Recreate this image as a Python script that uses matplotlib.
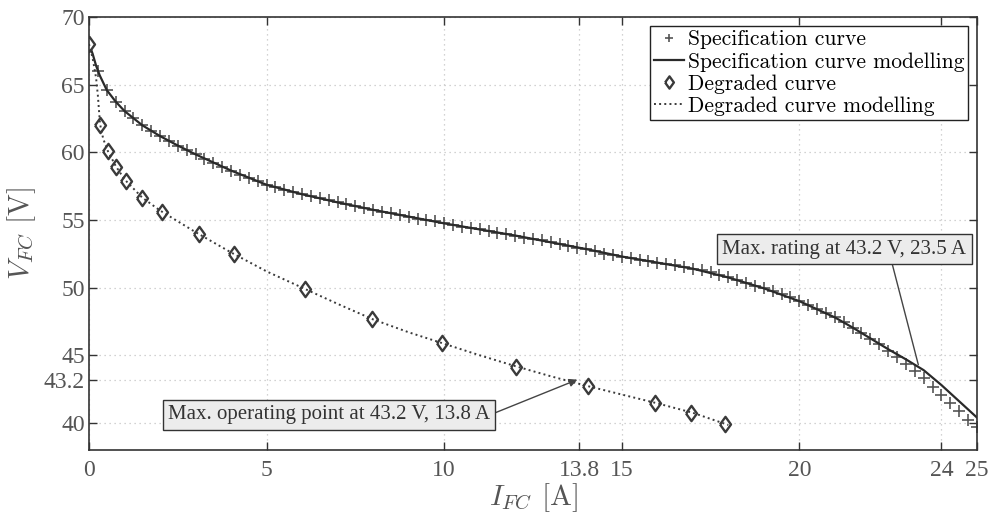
import matplotlib
matplotlib.use("Agg")
import matplotlib.pyplot as plt

plt.rcParams["mathtext.fontset"] = "cm"

# specification curve (data points, + markers)
spec_i = [0.00, 0.25, 0.50, 0.75, 1.00, 1.25, 1.50, 1.75, 2.00, 2.25,
          2.50, 2.75, 3.00, 3.25, 3.50, 3.75, 4.00, 4.25, 4.50, 4.75,
          5.00, 5.25, 5.50, 5.75, 6.00, 6.25, 6.50, 6.75, 7.00, 7.25,
          7.50, 7.75, 8.00, 8.25, 8.50, 8.75, 9.00, 9.25, 9.50, 9.75,
          10.00, 10.25, 10.50, 10.75, 11.00, 11.25, 11.50, 11.75, 12.00, 12.25,
          12.50, 12.75, 13.00, 13.25, 13.50, 13.75, 14.00, 14.25, 14.50, 14.75,
          15.00, 15.25, 15.50, 15.75, 16.00, 16.25, 16.50, 16.75, 17.00, 17.25,
          17.50, 17.75, 18.00, 18.25, 18.50, 18.75, 19.00, 19.25, 19.50, 19.75,
          20.00, 20.25, 20.50, 20.75, 21.00, 21.25, 21.50, 21.75, 22.00, 22.25,
          22.50, 22.75, 23.00, 23.25, 23.50, 23.75, 24.00, 24.25, 24.50, 24.75,
          25.00]
spec_v = [68.0, 66.0, 64.6, 63.75, 63.05, 62.5, 62.0, 61.6, 61.2, 60.85,
          60.5, 60.15, 59.85, 59.5, 59.2, 58.9, 58.65, 58.35, 58.1, 57.85,
          57.6, 57.4, 57.2, 57.05, 56.9, 56.75, 56.6, 56.45, 56.3, 56.15,
          56.0, 55.9, 55.75, 55.6, 55.5, 55.35, 55.25, 55.1, 55.0, 54.9,
          54.75, 54.65, 54.5, 54.4, 54.3, 54.2, 54.05, 53.95, 53.85, 53.7,
          53.6, 53.5, 53.35, 53.25, 53.1, 52.95, 52.85, 52.7, 52.5, 52.4,
          52.3, 52.2, 52.05, 51.95, 51.85, 51.75, 51.65, 51.55, 51.4, 51.3,
          51.15, 50.95, 50.75, 50.55, 50.35, 50.15, 49.95, 49.75, 49.55, 49.3,
          49.0, 48.7, 48.4, 48.1, 47.8, 47.45, 47.05, 46.65, 46.2, 45.8,
          45.3, 44.85, 44.35, 43.85, 43.3, 42.65, 42.05, 41.45, 40.85, 40.25,
          39.7]

# specification curve modelling (solid line)
spec_mod_i = [0, 0.1, 0.2, 0.3, 0.5, 0.75, 1.0, 1.5, 2.0, 2.5, 3.0, 4.0, 5.0,
              6.0, 7.0, 8.0, 9.0, 10.0, 11.0, 12.0, 13.0, 14.0, 15.0, 16.0,
              17.0, 18.0, 19.0, 20.0, 20.5, 21.0, 21.5, 22.0, 22.5, 23.0,
              23.5, 24.0, 24.5, 25.0]
spec_mod_v = [68.0, 67.3, 66.4, 65.7, 64.6, 63.75, 63.05, 62.0, 61.2, 60.5,
              59.85, 58.65, 57.6, 56.9, 56.3, 55.75, 55.25, 54.75, 54.3, 53.85,
              53.35, 52.85, 52.3, 51.85, 51.4, 50.75, 49.95, 49.0, 48.4, 47.8,
              47.05, 46.25, 45.45, 44.7, 43.9, 42.8, 41.6, 40.4]

# degraded curve (diamonds)
deg_i = [0, 0.31, 0.53, 0.76, 1.04, 1.49, 2.06, 3.10, 4.08, 6.08, 7.97,
         9.93, 12.01, 14.04, 15.95, 16.94, 17.9]
deg_v = [68.0, 62.0, 60.1, 58.9, 57.9, 56.6, 55.6, 53.95, 52.5, 49.9, 47.65,
         45.9, 44.15, 42.7, 41.5, 40.75, 39.9]

# degraded curve modelling (dotted line)
deg_mod_i = [0, 0.1, 0.2, 0.25, 0.31, 0.4, 0.53, 0.75, 1.0, 1.5, 2.0, 3.0,
             4.0, 5.0, 6.0, 7.0, 8.0, 9.0, 10.0, 11.0, 12.0, 13.0, 14.0,
             15.0, 16.0, 17.0, 18.0]
deg_mod_v = [68.0, 67.0, 65.5, 64.2, 62.1, 61.0, 60.1, 59.0, 58.0, 56.65,
             55.7, 54.1, 52.6, 51.2, 50.0, 48.8, 47.65, 46.7, 45.85, 45.0,
             44.2, 43.45, 42.75, 42.1, 41.45, 40.75, 39.85]

xticks = [0, 5, 10, 13.8, 15, 20, 24, 25]
xtick_labels = ["0", "5", "10", "13.8", "15", "20", "24", "25"]
yticks = [40, 43.2, 45, 50, 55, 60, 65, 70]
ytick_labels = ["40", "43.2", "45", "50", "55", "60", "65", "70"]

# slightly wide diamond, like the matlab one
diamond = [(-0.72, 0), (0, 1), (0.72, 0), (0, -1), (-0.72, 0)]

fig = plt.figure(figsize=(9.91, 5.17), dpi=100)
ax = fig.add_axes([0.0898, 0.1296, 0.896, 0.8375])

ax.plot(spec_i, spec_v, linestyle="none", marker="+", markersize=8,
        markeredgewidth=1.2, color="#555555", label="Specification curve")
ax.plot(spec_mod_i, spec_mod_v, "-", color="#2a2a2a", linewidth=1.6,
        label="Specification curve modelling")
ax.plot(deg_i, deg_v, linestyle="none", marker=diamond, markersize=11,
        markeredgewidth=1.7, markerfacecolor="white", markeredgecolor="#3a3a3a",
        label="Degraded curve")
ax.plot(deg_mod_i, deg_mod_v, ":", color="#3a3a3a", linewidth=1.4,
        label="Degraded curve modelling")

ax.set_xlim(0, 25)
ax.set_ylim(38, 70)
ax.set_xticks(xticks)
ax.set_xticklabels(xtick_labels)
ax.set_yticks(yticks)
ax.set_yticklabels(ytick_labels)
ax.tick_params(direction="in", top=True, right=True, length=6, width=1,
               labelsize=17, colors="#333333")
ax.tick_params(axis="x", pad=7)
ax.tick_params(axis="y", pad=3)
for lab in ax.get_xticklabels() + ax.get_yticklabels():
    lab.set_fontfamily("Liberation Serif")
    lab.set_color("#555555")
for sp in ax.spines.values():
    sp.set_color("#333333")
    sp.set_linewidth(1.2)
ax.grid(True, color="#c4c4c4", linewidth=0.9, linestyle=(0, (1, 3)))

ax.set_xlabel(r"$I_{FC}$ [A]", fontsize=21, color="#555555",
              fontfamily="cmr10", labelpad=0)
ax.set_ylabel(r"$V_{FC}$ [V]", fontsize=21, color="#555555",
              fontfamily="cmr10", labelpad=4)

leg = ax.legend(loc="upper right", prop={"family": "cmr10", "size": 15.5},
                frameon=True, fancybox=False, framealpha=1, edgecolor="#222222",
                labelspacing=0.12, handlelength=1.4, handletextpad=0.15,
                borderpad=0.2, borderaxespad=0.4, markerscale=0.8)
leg.get_frame().set_linewidth(1.0)

box = dict(boxstyle="square,pad=0.25", facecolor="#ececec", edgecolor="#333333",
           linewidth=1.0)
ax.annotate("Max. operating point at 43.2 V, 13.8 A", xy=(13.75, 43.2),
            xytext=(6.76, 40.6), ha="center", va="center", fontsize=15,
            fontfamily="Liberation Serif", color="#333333", bbox=box,
            arrowprops=dict(arrowstyle="-|>", color="#444444", lw=1.0,
                            mutation_scale=12, relpos=(1.0, 0.5),
                            shrinkA=0, shrinkB=0))
ax.annotate("Max. rating at 43.2 V, 23.5 A", xy=(23.35, 44.3),
            xytext=(21.27, 52.85), ha="center", va="center", fontsize=15,
            fontfamily="Liberation Serif", color="#333333", bbox=box,
            arrowprops=dict(arrowstyle="-", color="#444444", lw=1.0,
                            relpos=(0.69, 0.0), shrinkA=0, shrinkB=0))

fig.savefig("out.png", dpi=100)
